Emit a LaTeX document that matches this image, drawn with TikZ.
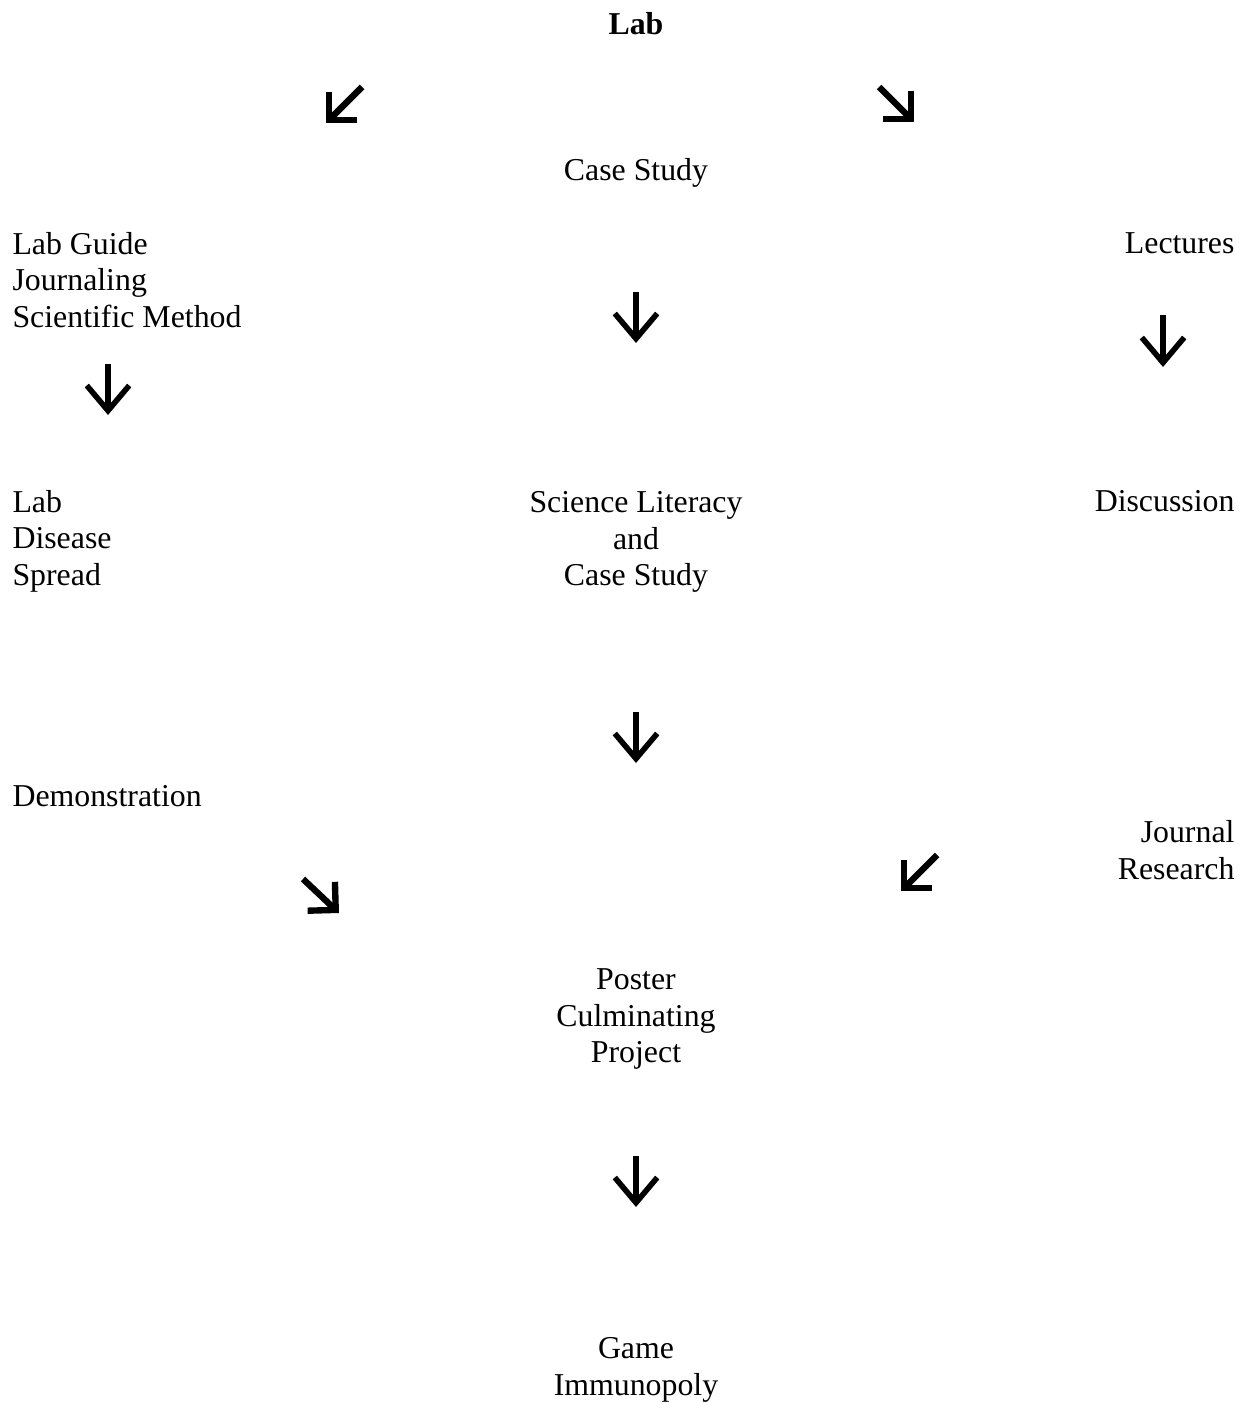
\documentclass[tikz,border=0pt]{standalone}
\usepackage{fontspec}
\setmainfont{Liberation Serif}
\usetikzlibrary{arrows.meta}

\begin{document}
\begin{tikzpicture}[
            x = 0.377pt, y = -0.377pt, % one unit is one pixel of the page
            font = \fontsize{12}{13.8}\selectfont, % text style
            inner sep = 0pt,
            downarr/.style = {line width = 2.1pt, -{Straight Barb[length = 9.5pt, width = 16pt, line join = miter]}},
            diagarr/.style = {line width = 2.4pt, -{Straight Barb[length = 7.5pt, width = 15pt, line join = miter]}}
        ]

        \useasboundingbox (0,0) rectangle (1249,1403);

        \tikzstyle{leftbox}=[anchor = west, align = left]
        \tikzstyle{rightbox}=[anchor = east, align = right]
        \tikzstyle{midbox}=[align = center]

        \node[midbox] (lab) at (636,24) {\textbf{Lab}};
        \node[midbox] (case) at (636,173) {Case Study};
        \node[leftbox] (guide) at (12,280) {Lab Guide\\Journaling\\Scientific Method};
        \node[rightbox] (lect) at (1235,243) {Lectures};
        \node[leftbox] (spread) at (12,541) {Lab\\Disease\\Spread};
        \node[midbox] (lit) at (636,542) {Science Literacy\\and\\Case Study};
        \node[rightbox] (disc) at (1235,501) {Discussion};
        \node[leftbox] (demo) at (12,796) {Demonstration};
        \node[rightbox] (journ) at (1235,850) {Journal\\Research};
        \node[midbox] (poster) at (636,1019) {Poster\\Culminating\\Project};
        \node[midbox] (game) at (636,1370) {Game\\Immunopoly};

        % free standing arrows
        \coordinate (a1) at (362,87);   \coordinate (a1e) at (326,123);
        \coordinate (a2) at (879,87);   \coordinate (a2e) at (914,122);
        \coordinate (a3) at (636,292);  \coordinate (a3e) at (636,343);
        \coordinate (a4) at (1163,315); \coordinate (a4e) at (1163,367);
        \coordinate (a5) at (108,364);  \coordinate (a5e) at (108,415);
        \coordinate (a6) at (636,712);  \coordinate (a6e) at (636,763);
        \coordinate (a7) at (937,855);  \coordinate (a7e) at (901,891);
        \coordinate (a8) at (303,879);  \coordinate (a8e) at (339,913);
        \coordinate (a9) at (636,1156); \coordinate (a9e) at (636,1207);

	\draw[diagarr] (a1) -- (a1e);
	\draw[diagarr] (a2) -- (a2e);
	\draw[downarr] (a3) -- (a3e);
	\draw[downarr] (a4) -- (a4e);
	\draw[downarr] (a5) -- (a5e);
	\draw[downarr] (a6) -- (a6e);
	\draw[diagarr] (a7) -- (a7e);
	\draw[diagarr] (a8) -- (a8e);
	\draw[downarr] (a9) -- (a9e);
    \end{tikzpicture}
\end{document}
